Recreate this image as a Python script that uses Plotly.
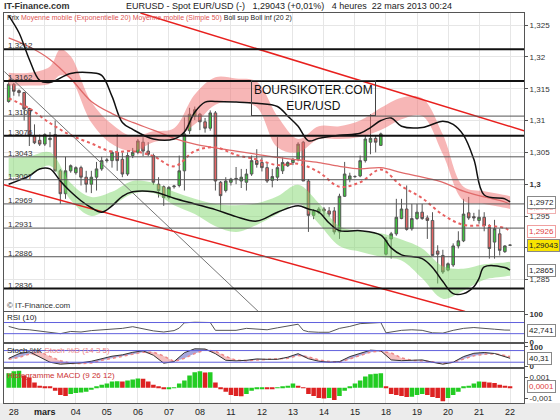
import plotly.graph_objects as go

# bougies 4 heures EUR/USD, index 0 = 28 fev. 2013, 6 bougies par jour
opens = [1.3130, 1.3157, 1.3147, 1.3144, 1.3119, 1.3076, 1.3069, 1.3063, 1.3070, 1.3078,
         1.3021, 1.2985, 1.3021, 1.3018, 1.3026, 1.3011, 1.3000, 1.3011, 1.3024, 1.3037,
         1.3037, 1.3050, 1.3039, 1.3016, 1.3045, 1.3050, 1.3066, 1.3052, 1.3045, 1.3000,
         1.2996, 1.2979, 1.2996, 1.2998, 1.3021, 1.3084, 1.3107, 1.3110, 1.3098, 1.3088,
         1.3112, 1.3003, 1.2990, 1.3003, 1.3008, 1.3005, 1.3003, 1.3016, 1.3037, 1.3034,
         1.3026, 1.3006, 1.3011, 1.3021, 1.3029, 1.3034, 1.3039, 1.3066, 1.3005, 1.2951,
         1.2956, 1.2961, 1.2958, 1.2958, 1.2925, 1.2981, 1.3008, 1.3012, 1.3013, 1.3037,
         1.3066, 1.3072, 1.3061, 1.2890, 1.2914, 1.2922, 1.2946, 1.2961, 1.2930, 1.2946,
         1.2956, 1.2947, 1.2943, 1.2895, 1.2888, 1.2865, 1.2873, 1.2903, 1.2911, 1.2955,
         1.2949, 1.2943, 1.2948, 1.2932, 1.2909, 1.2922, 1.2894, 1.2904]
highs = [1.3160, 1.3159, 1.3149, 1.3145, 1.3120, 1.3094, 1.3078, 1.3080, 1.3082, 1.3100,
         1.3024, 1.3043, 1.3031, 1.3028, 1.3029, 1.3021, 1.3021, 1.3035, 1.3043, 1.3041,
         1.3053, 1.3079, 1.3050, 1.3050, 1.3057, 1.3071, 1.3074, 1.3066, 1.3048, 1.3011,
         1.2998, 1.2997, 1.2999, 1.3045, 1.3105, 1.3120, 1.3122, 1.3112, 1.3104, 1.3116,
         1.3115, 1.3005, 1.3011, 1.3010, 1.3027, 1.3024, 1.3024, 1.3045, 1.3055, 1.3042,
         1.3034, 1.3024, 1.3074, 1.3042, 1.3036, 1.3041, 1.3066, 1.3068, 1.3008, 1.2961,
         1.2964, 1.2964, 1.2964, 1.2964, 1.2985, 1.3035, 1.3018, 1.3014, 1.3045, 1.3077,
         1.3110, 1.3077, 1.3081, 1.2917, 1.2925, 1.2977, 1.2977, 1.2998, 1.2969, 1.2969,
         1.2969, 1.2951, 1.2956, 1.2904, 1.2897, 1.2877, 1.2907, 1.2926, 1.2977, 1.2980,
         1.2955, 1.2960, 1.2956, 1.2937, 1.2944, 1.2930, 1.2904, 1.2905]
lows = [1.3128, 1.3139, 1.3138, 1.3100, 1.3060, 1.3063, 1.3060, 1.3060, 1.3058, 1.3020,
        1.2969, 1.2977, 1.3018, 1.3015, 1.2998, 1.2987, 1.2986, 1.2990, 1.3021, 1.3034,
        1.3026, 1.3021, 1.3011, 1.3013, 1.3041, 1.3047, 1.3044, 1.3044, 1.2999, 1.2979,
        1.2966, 1.2976, 1.2993, 1.2995, 1.2990, 1.3079, 1.3101, 1.3085, 1.3081, 1.3084,
        1.2990, 1.2958, 1.2987, 1.2998, 1.3000, 1.2994, 1.2990, 1.3013, 1.3026, 1.3020,
        1.3002, 1.2995, 1.3005, 1.3016, 1.3027, 1.3030, 1.3036, 1.3005, 1.2925, 1.2945,
        1.2953, 1.2950, 1.2949, 1.2921, 1.2914, 1.2980, 1.3003, 1.3010, 1.3011, 1.3034,
        1.3047, 1.3050, 1.3060, 1.2888, 1.2883, 1.2919, 1.2945, 1.2927, 1.2927, 1.2944,
        1.2944, 1.2914, 1.2888, 1.2844, 1.2859, 1.2863, 1.2870, 1.2899, 1.2909, 1.2944,
        1.2942, 1.2938, 1.2926, 1.2883, 1.2883, 1.2888, 1.2892, 1.2903]
closes = [1.3157, 1.3146, 1.3144, 1.3118, 1.3076, 1.3065, 1.3063, 1.3078, 1.3072, 1.3021,
          1.2985, 1.3021, 1.3029, 1.3026, 1.3011, 1.3000, 1.3011, 1.3024, 1.3037, 1.3038,
          1.3050, 1.3037, 1.3016, 1.3045, 1.3050, 1.3068, 1.3052, 1.3047, 1.3003, 1.2990,
          1.2979, 1.2995, 1.2997, 1.3021, 1.3079, 1.3110, 1.3117, 1.3098, 1.3088, 1.3112,
          1.3005, 1.2982, 1.3005, 1.3008, 1.3009, 1.3011, 1.3016, 1.3037, 1.3031, 1.3026,
          1.3005, 1.3012, 1.3026, 1.3034, 1.3034, 1.3039, 1.3063, 1.3005, 1.2951, 1.2958,
          1.2961, 1.2958, 1.2953, 1.2925, 1.2981, 1.3016, 1.3013, 1.3012, 1.3037, 1.3071,
          1.3072, 1.3066, 1.3079, 1.2912, 1.2922, 1.2948, 1.2961, 1.2929, 1.2946, 1.2956,
          1.2946, 1.2943, 1.2888, 1.2890, 1.2862, 1.2875, 1.2903, 1.2911, 1.2953, 1.2947,
          1.2947, 1.2948, 1.2935, 1.2899, 1.2930, 1.2896, 1.2903, 1.29043]
candle_idx = list(range(len(opens)))

day_ticks = [1, 7, 13, 19, 25, 31, 37, 43, 49, 55, 61, 67, 73, 79, 85, 91, 97]
day_labels = ['28', '<b>mars</b>', '04', '05', '06', '07', '08', '11', '12', '13', '14',
              '15', '18', '19', '20', '21', '22']

# moyennes mobiles
ma_x = [0, 4, 8, 12, 16, 20, 24, 28, 32, 36, 40, 44, 48, 52, 56, 60, 64, 68, 72, 76,
        80, 84, 88, 92, 96, 97]
ema20 = [1.3135, 1.3119, 1.3096, 1.3077, 1.3064, 1.3051, 1.3052, 1.3044, 1.3028, 1.3052,
         1.3058, 1.3046, 1.3039, 1.3030, 1.3032, 1.3019, 1.2996, 1.3003, 1.3023, 1.2997,
         1.2978, 1.2952, 1.2936, 1.2935, 1.2931, 1.2926]
sma50 = [1.3230, 1.3216, 1.3196, 1.3166, 1.3130, 1.3111, 1.3097, 1.3085, 1.3072, 1.3063,
         1.3057, 1.3052, 1.3047, 1.3042, 1.3038, 1.3034, 1.3028, 1.3024, 1.3026, 1.3018,
         1.3011, 1.3003, 1.2989, 1.2980, 1.2972, 1.2968]

bbu_x = [0, 2, 4, 6, 8, 12, 16, 18, 20, 22, 24, 28, 32, 34, 36, 38, 40, 44, 48, 52, 54,
         56, 58, 60, 64, 68, 70, 72, 74, 76, 80, 84, 86, 88, 90, 92, 96, 97]
boll_sup = [1.3265, 1.3238, 1.3196, 1.3163, 1.3160, 1.3174, 1.3175, 1.3171, 1.3138, 1.3097,
            1.3086, 1.3071, 1.3071, 1.3082, 1.3113, 1.3129, 1.3130, 1.3129, 1.3127, 1.3122,
            1.3107, 1.3091, 1.3068, 1.3072, 1.3077, 1.3080, 1.3089, 1.3100, 1.3104, 1.3091,
            1.3089, 1.3099, 1.3094, 1.3077, 1.3039, 1.2983, 1.2977, 1.2972]
bbl_x = [0, 4, 6, 8, 10, 12, 14, 16, 18, 20, 22, 24, 28, 32, 36, 40, 44, 48, 52, 56, 58,
         60, 62, 64, 68, 72, 74, 76, 80, 82, 84, 86, 88, 90, 91, 92, 96, 97]
boll_inf = [1.3000, 1.3013, 1.3024, 1.3024, 1.3005, 1.2988, 1.2974, 1.2963, 1.2956, 1.2966,
            1.2981, 1.2988, 1.2988, 1.2978, 1.2969, 1.2960, 1.2949, 1.2942, 1.2956, 1.2966,
            1.2961, 1.2956, 1.2939, 1.2927, 1.2927, 1.2920, 1.2900, 1.2889, 1.2883, 1.2869,
            1.2847, 1.2828, 1.2828, 1.2839, 1.2852, 1.2870, 1.2869, 1.2865]

# zones rose / verte
pink_x = [0, 4, 8, 10, 12, 16, 20, 24, 28, 32, 36, 40, 44, 48, 52, 56, 60, 64, 68, 72,
          76, 80, 84, 88, 92, 96, 97]
pink_top = [1.3175, 1.3175, 1.3185, 1.3212, 1.3201, 1.3129, 1.3094, 1.3075, 1.3083, 1.3088,
            1.3141, 1.3168, 1.3166, 1.3161, 1.3107, 1.3071, 1.3091, 1.3091, 1.3100, 1.3120,
            1.3136, 1.3135, 1.3078, 1.2996, 1.2989, 1.2983, 1.2981]
pink_bot = [1.3155, 1.3155, 1.3158, 1.3171, 1.3165, 1.3097, 1.3063, 1.3052, 1.3066, 1.3072,
            1.3094, 1.3125, 1.3130, 1.3121, 1.3058, 1.3050, 1.3071, 1.3071, 1.3074, 1.3085,
            1.3102, 1.3107, 1.3047, 1.2974, 1.2969, 1.2963, 1.2961]
green_top = [1.3041, 1.3044, 1.3050, 1.3002, 1.2980, 1.2988, 1.3005, 1.3002, 1.2988, 1.2977,
             1.2969, 1.2967, 1.2970, 1.2981, 1.2999, 1.2970, 1.2934, 1.2927, 1.2923, 1.2913,
             1.2899, 1.2871, 1.2867, 1.2874, 1.2877, 1.2878]
green_bot = [1.3011, 1.3014, 1.3029, 1.2975, 1.2950, 1.2966, 1.2985, 1.2986, 1.2967, 1.2953,
             1.2934, 1.2925, 1.2936, 1.2953, 1.2970, 1.2938, 1.2903, 1.2894, 1.2886, 1.2880,
             1.2852, 1.2820, 1.2833, 1.2850, 1.2855, 1.2856]

# droites tracees
chan_top_x = [25.5, 99.7]
chan_top_y = [1.3269, 1.3084]
chan_bot_x = [-0.9, 88.3]
chan_bot_y = [1.2999, 1.2800]
trend_x = [-0.83, 48.3]
trend_y = [1.3177, 1.2800]
levels = [1.3212, 1.3162, 1.3107, 1.3076, 1.3043, 1.3007, 1.2969, 1.2931, 1.2886, 1.2836]
strong_levels = [1.3212, 1.3162, 1.3076, 1.2836]

# RSI (10)
rsi_x = [0, 2, 4, 6, 8, 10, 12, 14, 16, 18, 20, 22, 24, 26, 28, 30, 32, 33, 34, 36, 38,
         39, 40, 42, 44, 46, 48, 50, 52, 54, 56, 57, 58, 60, 62, 64, 66, 68, 70, 72, 73,
         74, 76, 78, 80, 82, 84, 86, 88, 90, 92, 94, 96, 97]
rsi = [56, 46, 44, 39, 34, 30, 38, 36, 41, 44, 47, 49, 55, 48, 40, 36, 41, 50, 69, 71, 70,
       70, 42, 42, 42, 49, 47, 44, 51, 58, 64, 42, 37, 35, 35, 49, 56, 66, 69, 70, 33,
       36, 42, 44, 42, 33, 32, 42, 49, 52, 50, 46, 43, 42.741]

# Stochastique (14 3 5)
st_x = list(range(0, 97, 2)) + [97]
stoch_k = [40, 64, 74, 46, 20, 10, 13, 17, 25, 40, 51, 58, 71, 79, 56, 15, 23, 69, 89, 88,
           64, 30, 27, 30, 37, 35, 35, 46, 64, 38, 25, 20, 23, 49, 66, 82, 79, 32, 28, 30,
           32, 20, 10, 20, 49, 66, 70, 65, 48, 40.31]
stoch_d = [35, 45, 62, 74, 50, 28, 14, 13, 16, 30, 40, 50, 60, 72, 72, 52, 24, 40, 65, 83,
           77, 50, 30, 28, 32, 34, 35, 40, 55, 48, 32, 24, 20, 38, 55, 72, 77, 68, 42, 30,
           27, 22, 13, 20, 36, 53, 61, 64, 55, 49]

# Histogramme MACD (9 26 12)
macd_hist = [0.0014, 0.0016, 0.00165, 0.0012, 0.0010, 0.0005, 0.0002, 0.00013, 0.00012, -0.0003,
             -0.0007, -0.0008, -0.0006, -0.0005, -0.00045, -0.0004, -0.0002, 0.0001, 0.0003, 0.0004,
             0.0006, 0.00062, 0.0006, 0.0007, 0.0008, 0.0009, 0.00088, 0.0006, 0.0003, 0.0001,
             -0.00008, -0.00006, 0.00005, 0.0004, 0.0007, 0.0012, 0.0015, 0.0016, 0.00148, 0.0015,
             0.0005, -0.0001, -0.0004, -0.0007, -0.0008, -0.00082, -0.0006, -0.0003, -0.0001, -0.00005,
             -0.0001, -0.00012, 0.00005, 0.0001, 0.0002, 0.0004, 0.0002, 0.00005, -0.0006, -0.0008,
             -0.001, -0.00105, -0.001, -0.0012, -0.0008, -0.0003, 0.0001, 0.0004, 0.0007, 0.0011,
             0.0013, 0.00135, 0.0014, 0.0001, -0.0006, -0.0007, -0.0008, -0.0009, -0.00088, -0.0007,
             -0.0006, -0.0007, -0.0009, -0.001, -0.0013, -0.001, -0.0007, -0.0004, 0.0001, 0.0002,
             0.0004, 0.0006, 0.00058, 0.0005, 0.00045, 0.0003, 0.0002, 0.0001]

FONT = 'Liberation Sans, Arial, sans-serif'
UP, DOWN = '#3fc43f', '#e66666'

fig = go.Figure()

# zones
fig.add_trace(go.Scatter(x=pink_x, y=pink_bot, mode='lines', line=dict(width=0, shape='spline'),
                         showlegend=False, hoverinfo='skip'))
fig.add_trace(go.Scatter(x=pink_x, y=pink_top, mode='lines', line=dict(width=0, shape='spline'),
                         fill='tonexty', fillcolor='rgba(240,110,110,0.5)', showlegend=False, hoverinfo='skip'))
fig.add_trace(go.Scatter(x=ma_x, y=green_bot, mode='lines', line=dict(width=0, shape='spline'),
                         showlegend=False, hoverinfo='skip'))
fig.add_trace(go.Scatter(x=ma_x, y=green_top, mode='lines', line=dict(width=0, shape='spline'),
                         fill='tonexty', fillcolor='rgba(130,215,110,0.5)', showlegend=False, hoverinfo='skip'))

# droites
fig.add_trace(go.Scatter(x=trend_x, y=trend_y, mode='lines', line=dict(color='#777', width=1),
                         showlegend=False, hoverinfo='skip'))
fig.add_trace(go.Scatter(x=chan_top_x, y=chan_top_y, mode='lines', line=dict(color='#e8201e', width=1.5),
                         showlegend=False, hoverinfo='skip'))
fig.add_trace(go.Scatter(x=chan_bot_x, y=chan_bot_y, mode='lines', line=dict(color='#e8201e', width=1.5),
                         showlegend=False, hoverinfo='skip'))

# moyennes et bollinger
fig.add_trace(go.Scatter(x=ma_x, y=sma50, mode='lines', line=dict(color='#e06a6a', width=1.3, shape='spline'),
                         showlegend=False, hoverinfo='skip'))
fig.add_trace(go.Scatter(x=ma_x, y=ema20, mode='lines',
                         line=dict(color='#e86060', width=2, dash='dot', shape='spline'),
                         showlegend=False, hoverinfo='skip'))
fig.add_trace(go.Scatter(x=bbu_x, y=boll_sup, mode='lines', line=dict(color='#111', width=1.5, shape='spline'),
                         showlegend=False, hoverinfo='skip'))
fig.add_trace(go.Scatter(x=bbl_x, y=boll_inf, mode='lines', line=dict(color='#111', width=1.5, shape='spline'),
                         showlegend=False, hoverinfo='skip'))

fig.add_trace(go.Candlestick(x=candle_idx, open=opens, high=highs, low=lows, close=closes,
                             increasing=dict(fillcolor=UP, line=dict(color='#555', width=1)),
                             decreasing=dict(fillcolor=DOWN, line=dict(color='#555', width=1)),
                             whiskerwidth=0, showlegend=False, hoverinfo='skip'))

# RSI
fig.add_trace(go.Scatter(x=rsi_x, y=[70] * len(rsi_x), mode='lines', line=dict(width=0),
                         xaxis='x2', yaxis='y2', showlegend=False, hoverinfo='skip'))
fig.add_trace(go.Scatter(x=rsi_x, y=[max(v, 70) for v in rsi], mode='lines', line=dict(width=0),
                         fill='tonexty', fillcolor='rgba(110,110,200,0.6)',
                         xaxis='x2', yaxis='y2', showlegend=False, hoverinfo='skip'))
fig.add_trace(go.Scatter(x=rsi_x, y=rsi, mode='lines', line=dict(color='#555', width=1),
                         xaxis='x2', yaxis='y2', showlegend=False, hoverinfo='skip'))

# Stochastique
fig.add_trace(go.Scatter(x=st_x, y=stoch_d, mode='lines', line=dict(width=0),
                         xaxis='x3', yaxis='y3', showlegend=False, hoverinfo='skip'))
fig.add_trace(go.Scatter(x=st_x, y=[max(k, d) for k, d in zip(stoch_k, stoch_d)], mode='lines',
                         line=dict(width=0), fill='tonexty', fillcolor='rgba(110,110,200,0.6)',
                         xaxis='x3', yaxis='y3', showlegend=False, hoverinfo='skip'))
fig.add_trace(go.Scatter(x=st_x, y=stoch_d, mode='lines', line=dict(width=0),
                         xaxis='x3', yaxis='y3', showlegend=False, hoverinfo='skip'))
fig.add_trace(go.Scatter(x=st_x, y=[min(k, d) for k, d in zip(stoch_k, stoch_d)], mode='lines',
                         line=dict(width=0), fill='tonexty', fillcolor='rgba(235,130,130,0.5)',
                         xaxis='x3', yaxis='y3', showlegend=False, hoverinfo='skip'))
fig.add_trace(go.Scatter(x=st_x, y=stoch_d, mode='lines', line=dict(color='#ee8888', width=1.5, dash='dot'),
                         xaxis='x3', yaxis='y3', showlegend=False, hoverinfo='skip'))
fig.add_trace(go.Scatter(x=st_x, y=stoch_k, mode='lines', line=dict(color='#333', width=1),
                         xaxis='x3', yaxis='y3', showlegend=False, hoverinfo='skip'))

# MACD
macd_colors = ['#22cc22' if i == 0 or v >= macd_hist[i - 1] else '#dd2222'
               for i, v in enumerate(macd_hist)]
fig.add_trace(go.Bar(x=candle_idx, y=macd_hist, marker=dict(color=macd_colors, line=dict(width=0)),
                     xaxis='x4', yaxis='y4', showlegend=False, hoverinfo='skip'))

xr = [-0.9, 99.7]
xbase = dict(range=xr, tickvals=day_ticks, showgrid=True, gridcolor='#e6e6e6', zeroline=False,
             showline=True, mirror=True, linecolor='#555', linewidth=1, fixedrange=True)
ybase = dict(side='right', showline=True, mirror=True, linecolor='#555', linewidth=1, zeroline=False,
             ticks='outside', ticklen=3, tickcolor='#555', tickfont=dict(size=8, color='#333'))

main_ticks = [1.285, 1.29, 1.295, 1.3, 1.305, 1.31, 1.315, 1.32, 1.325]
main_text = ['1,285', '1,29', '1,295', '<b>1,3</b>', '1,305', '1,31', '1,315', '1,32', '1,325']

fig.update_layout(
    width=560, height=420, margin=dict(l=3, r=36, t=13, b=15),
    paper_bgcolor='white', plot_bgcolor='white', font=dict(family=FONT, color='#333'),
    bargap=0.12, showlegend=False,
    xaxis=dict(xbase, domain=[0, 1], anchor='y', showticklabels=False, rangeslider=dict(visible=False)),
    xaxis2=dict(xbase, domain=[0, 1], anchor='y2', matches='x', showticklabels=False),
    xaxis3=dict(xbase, domain=[0, 1], anchor='y3', matches='x', showticklabels=False),
    xaxis4=dict(xbase, domain=[0, 1], anchor='y4', matches='x', ticktext=day_labels,
                tickfont=dict(size=9, color='#222'), ticks=''),
    yaxis=dict(ybase, domain=[0.2347, 1], anchor='x', range=[1.2800, 1.3269], tickvals=main_ticks,
               ticktext=main_text, showgrid=True, gridcolor='#e6e6e6'),
    yaxis2=dict(ybase, domain=[0.1556, 0.2321], anchor='x2', range=[-1, 106], tickvals=[0, 100],
                ticktext=['<b>0</b>', '<b>100</b>'], showgrid=False),
    yaxis3=dict(ybase, domain=[0.0918, 0.1505], anchor='x3', range=[-5.6, 112.3], tickvals=[0, 100],
                ticktext=['<b>0</b>', '<b>100</b>'], showgrid=False),
    yaxis4=dict(ybase, domain=[0, 0.0867], anchor='x4', range=[-0.00148, 0.0018],
                tickvals=[-0.001, 0.001], ticktext=['-0,001', '0,001'], showgrid=False),
)

shapes = []
for lv in levels:
    strong = lv in strong_levels
    shapes.append(dict(type='line', xref='x domain', yref='y', x0=0, x1=1, y0=lv, y1=lv,
                       line=dict(color='#111' if strong else '#555', width=2 if strong else 1)))
for lv in (30, 70):
    shapes.append(dict(type='line', xref='x2 domain', yref='y2', x0=0, x1=1, y0=lv, y1=lv,
                       line=dict(color='#6060dd', width=1)))
for lv in (20, 80):
    shapes.append(dict(type='line', xref='x3 domain', yref='y3', x0=0, x1=1, y0=lv, y1=lv,
                       line=dict(color='#6060dd', width=1)))
shapes.append(dict(type='rect', xref='paper', yref='paper', x0=-0.01, x1=1.08, y0=-0.045, y1=0,
                   fillcolor='#ececec', line=dict(width=0), layer='below'))
fig.update_layout(shapes=shapes)

ann = []
for lv in levels:
    ann.append(dict(xref='paper', yref='y', x=0.003, y=lv, xanchor='left', yanchor='bottom',
                    text=('%.4f' % lv).replace('.', ','), showarrow=False, yshift=-3,
                    font=dict(size=8, color='#333')))

ann += [
    dict(xref='paper', yref='paper', x=-0.003, y=1.0185, xanchor='left', yanchor='middle',
         text='<b>IT-Finance.com</b>', showarrow=False, font=dict(size=9, color='#333')),
    dict(xref='paper', yref='paper', x=0.548, y=1.0185, xanchor='center', yanchor='middle',
         text='EURUSD - Spot EUR/USD (-)   1,29043 (+0,01%)   4 heures  22 mars 2013 00:24',
         showarrow=False, font=dict(size=9, color='#222')),
    dict(xref='paper', yref='paper', x=0.002, y=0.988, xanchor='left', yanchor='middle',
         text='Prix <span style="color:#e05555">Moyenne mobile (Exponentielle 20) Moyenne mobile '
              '(Simple 50)</span> Boll sup Boll inf (20 2)',
         showarrow=False, font=dict(size=7, color='#222')),
    dict(xref='paper', yref='paper', x=0.002, y=0.25, xanchor='left', yanchor='middle',
         text='© IT-Finance.com', showarrow=False, font=dict(size=8, color='#333')),
    dict(xref='paper', yref='paper', x=0.002, y=0.219, xanchor='left', yanchor='middle',
         text='RSI (10)', showarrow=False, font=dict(size=8, color='#222')),
    dict(xref='paper', yref='paper', x=0.002, y=0.135, xanchor='left', yanchor='middle',
         text='Stoch %K <span style="color:#e88">Stoch %D (14 3 5)</span>', showarrow=False,
         font=dict(size=8, color='#222')),
    dict(xref='paper', yref='paper', x=0.002, y=0.071, xanchor='left', yanchor='middle',
         text='Histogramme MACD (9 26 12)', showarrow=False, font=dict(size=8, color='#cc3333')),
    dict(xref='x', yref='y', x=58.96, y=1.3135, text='BOURSIKOTER.COM<br>EUR/USD', showarrow=False,
         font=dict(size=12, color='#111'), bordercolor='#444', borderwidth=1, borderpad=2),
]

vbox = dict(xref='paper', x=1.005, xanchor='left', yanchor='middle', showarrow=False,
            borderwidth=1, borderpad=1)
ann += [
    dict(vbox, yref='y', y=1.2964, text='1,2968', font=dict(size=8, color='#f0a0a0'),
         bgcolor='white', bordercolor='#f0b0b0'),
    dict(vbox, yref='y', y=1.2972, text='1,2972', font=dict(size=8, color='#222'),
         bgcolor='white', bordercolor='#888'),
    dict(vbox, yref='y', y=1.2926, text='1,2926', font=dict(size=8, color='#e04040'),
         bgcolor='white', bordercolor='#f0a0a0'),
    dict(vbox, yref='y', y=1.29043, text='1,29043', font=dict(size=8, color='#222'),
         bgcolor='#f8e400', bordercolor='#888'),
    dict(vbox, yref='y', y=1.2865, text='1,2865', font=dict(size=8, color='#222'),
         bgcolor='white', bordercolor='#888'),
    dict(vbox, yref='y2', y=42.741, text='42,741', font=dict(size=8, color='#222'),
         bgcolor='white', bordercolor='#888'),
    dict(vbox, yref='y3', y=40.31, text='40,31', font=dict(size=8, color='#222'),
         bgcolor='white', bordercolor='#888'),
    dict(vbox, yref='y4', y=0.0001, text='0,0001', font=dict(size=8, color='#e04040'),
         bgcolor='white', bordercolor='#888'),
]
fig.update_layout(annotations=ann)

fig.write_html("out.html", config={'displayModeBar': False},
               post_script="document.body.style.margin='0px';")
